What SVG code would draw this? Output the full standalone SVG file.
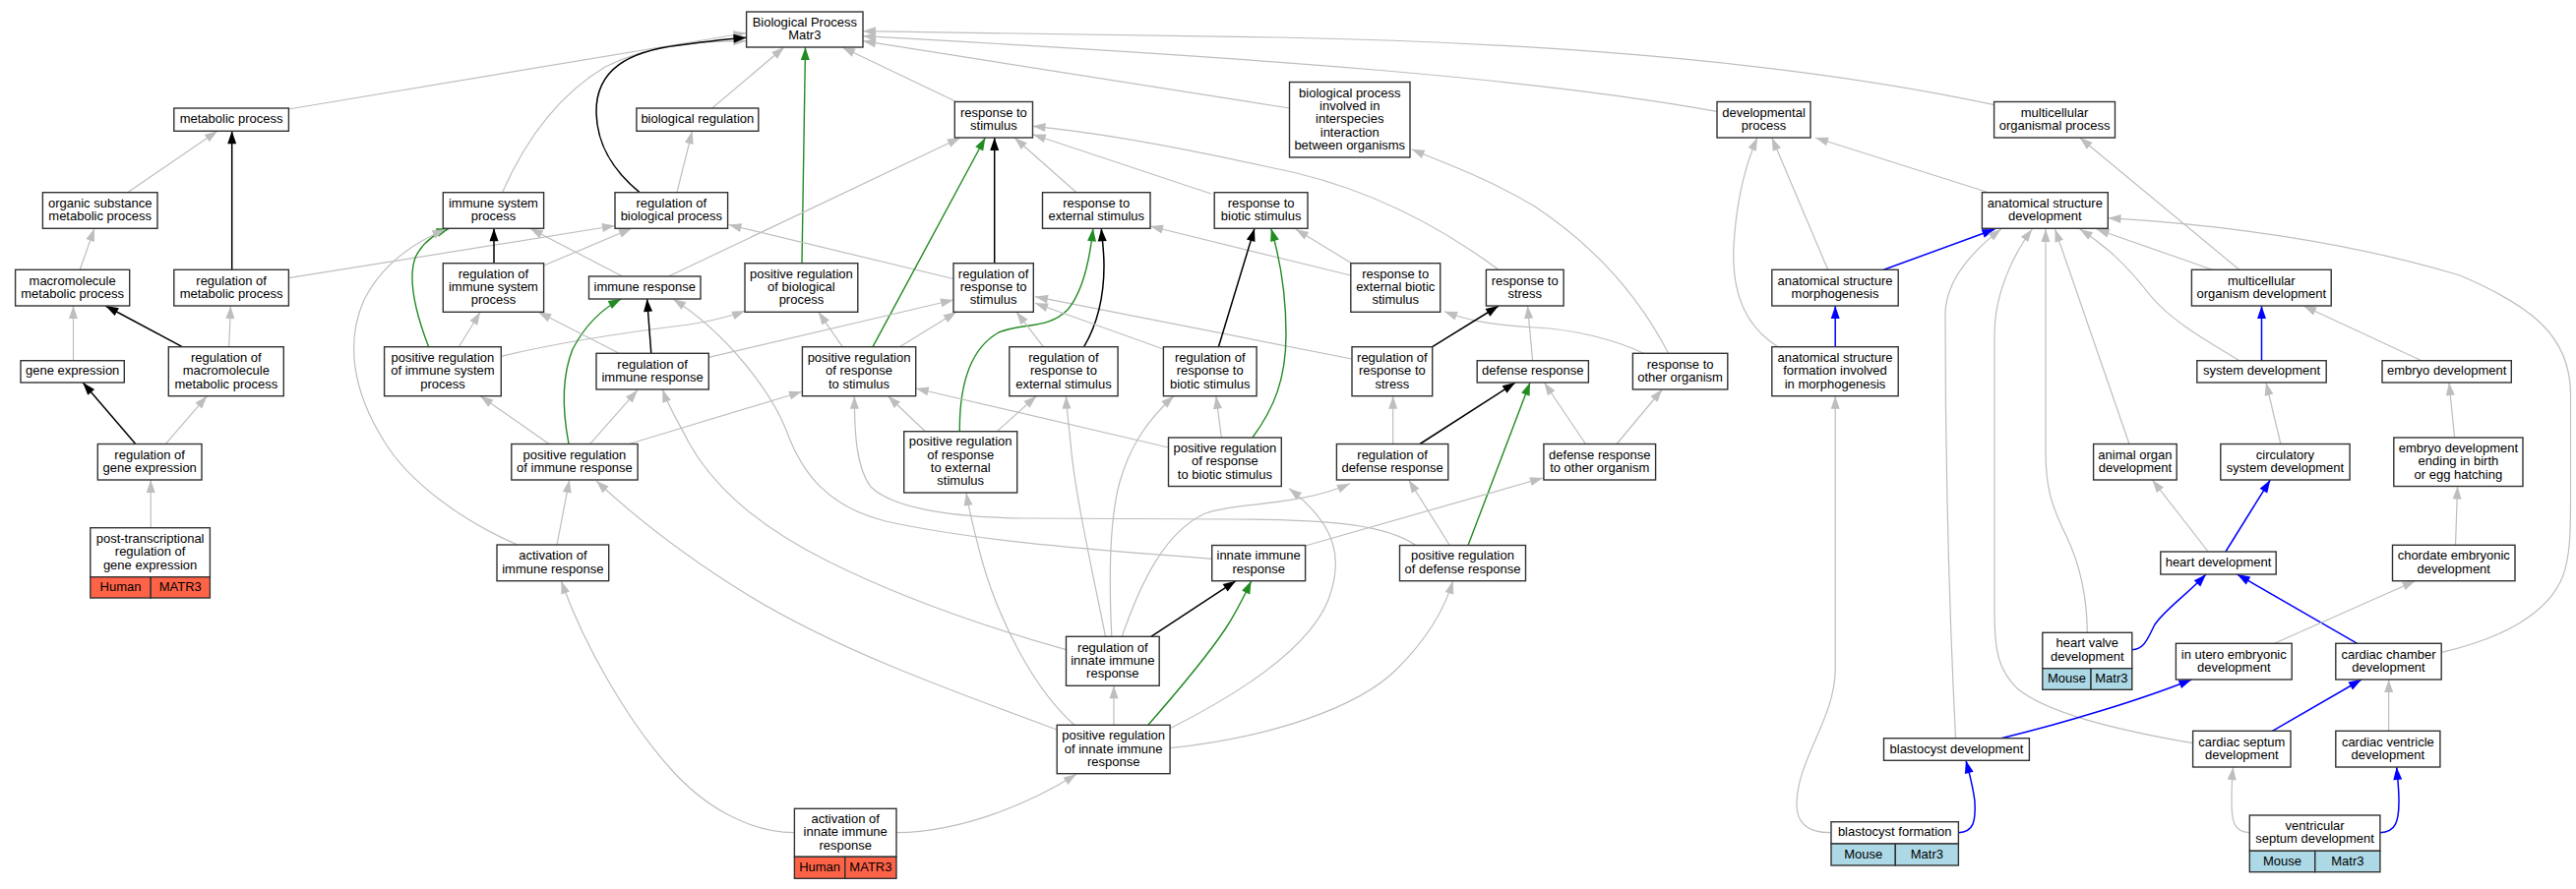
<svg xmlns="http://www.w3.org/2000/svg" width="2618" height="904" viewBox="0 0 2618 904">
<style>
text{font-family:"Liberation Sans",Arial,sans-serif;font-size:13px;text-anchor:middle;fill:#000}
.n rect{fill:#fff;stroke:#333;stroke-width:1.4}
.n rect.hu{fill:#ff6347}
.n rect.mo{fill:#add8e6}
#edges path{fill:none}
.g{stroke:#bebebe;stroke-width:1.2;marker-end:url(#ag)}
.k{stroke:#000;stroke-width:1.5;marker-end:url(#ak)}
.gr{stroke:#228b22;stroke-width:1.4;marker-end:url(#agr)}
.b{stroke:#0000ff;stroke-width:1.5;marker-end:url(#ab)}
</style>
<defs>
<marker id="ag" markerUnits="userSpaceOnUse" markerWidth="14" markerHeight="10" refX="13" refY="4.5" orient="auto" overflow="visible"><path d="M0,0 L13,4.5 L0,9 z" fill="#bebebe"/></marker>
<marker id="ak" markerUnits="userSpaceOnUse" markerWidth="14" markerHeight="10" refX="13" refY="4.5" orient="auto" overflow="visible"><path d="M0,0 L13,4.5 L0,9 z" fill="#000"/></marker>
<marker id="agr" markerUnits="userSpaceOnUse" markerWidth="14" markerHeight="10" refX="13" refY="4.5" orient="auto" overflow="visible"><path d="M0,0 L13,4.5 L0,9 z" fill="#228b22"/></marker>
<marker id="ab" markerUnits="userSpaceOnUse" markerWidth="14" markerHeight="10" refX="13" refY="4.5" orient="auto" overflow="visible"><path d="M0,0 L13,4.5 L0,9 z" fill="#0000ff"/></marker>
</defs>
<rect width="2618" height="904" fill="#fff"/>
<g id="edges">
<path class="g" d="M293,111 L758.5,33.5"/>
<path class="g" d="M510.5,195.7 C535,140 570,95 615,68 C660,45 710,42 758.5,41.7"/>
<path class="k" d="M650,195.7 C625,175 607,150 606,115 C605,70 640,52 690,46 C720,42 740,39.5 758.5,38.3"/>
<path class="g" d="M723.7,110 L797,48"/>
<path class="g" d="M688,195.7 L703.5,133.3"/>
<path class="gr" d="M815,267.7 L818.5,48"/>
<path class="g" d="M972,103.5 L856,48"/>
<path class="g" d="M1310.5,110 L877,41.7"/>
<path class="g" d="M1745,113.3 C1560,80 1300,60 877,36.7"/>
<path class="g" d="M2027,106.7 C1880,75 1650,45 1300,38 C1100,35 950,32 877,31.7"/>
<path class="g" d="M129.6,195.7 L221,133.3"/>
<path class="g" d="M81.2,274.3 L96,232.3"/>
<path class="k" d="M235.7,274.3 L235.7,133.3"/>
<path class="g" d="M293.4,282.7 L625,229.5"/>
<path class="g" d="M74.5,366.7 L74.5,311"/>
<path class="k" d="M185.2,352.7 L107.3,311"/>
<path class="g" d="M232.7,352.7 L234.4,311"/>
<path class="k" d="M137.6,451.3 L84.2,389"/>
<path class="g" d="M168.4,451.3 L210.4,402.7"/>
<path class="g" d="M153.2,536.7 L153.2,488"/>
<path class="k" d="M502,267.7 L502,232.3"/>
<path class="g" d="M552.6,270 L642,232.3"/>
<path class="g" d="M632.6,281 L538.7,232.3"/>
<path class="gr" d="M435.6,352.7 C423,320 414,285 422,262 C430,245 443,237 456.6,232.3"/>
<path class="g" d="M466.3,352.7 L488.2,317.3"/>
<path class="g" d="M509.3,362.3 C580,345 660,335 700,330 C725,326 742,322 757,316"/>
<path class="g" d="M526,554 C470,530 415,490 390,448 C360,400 350,350 370,305 C390,265 425,245 452.5,233.3"/>
<path class="g" d="M679.5,281 L976,140"/>
<path class="k" d="M1010.7,267.7 L1010.7,140"/>
<path class="g" d="M969,283.5 L740.5,228.5"/>
<path class="gr" d="M887,352.7 L1001.4,140"/>
<path class="g" d="M856.2,352.7 L831.8,317.3"/>
<path class="g" d="M914.3,352.7 L972,317.3"/>
<path class="g" d="M1094,195.7 L1031,140"/>
<path class="g" d="M1230.8,197 L1049.8,136.7"/>
<path class="k" d="M661.8,359.3 L657.6,304"/>
<path class="g" d="M720.3,363.3 L969,305"/>
<path class="gr" d="M578,451.3 C572,420 570,385 582,355 C595,330 612,314 631.3,304"/>
<path class="g" d="M557.7,451.3 L488.2,402.7"/>
<path class="g" d="M599.7,451.3 L648,396.7"/>
<path class="g" d="M640,451.3 L815,398.3"/>
<path class="g" d="M629.2,359.3 L547.1,317.3"/>
<path class="g" d="M1523,274.3 C1450,220 1370,185 1290,170 C1200,150 1120,135 1049.5,128.3"/>
<path class="g" d="M1373.7,267.7 L1316.8,233"/>
<path class="g" d="M1372.8,280 L1169,230"/>
<path class="g" d="M1695.6,359.3 C1665,300 1620,250 1560,210 C1510,180 1465,165 1434.7,151.7"/>
<path class="g" d="M1670.4,359.3 C1640,345 1600,335 1560,333 C1510,330 1490,325 1468,316.7"/>
<path class="k" d="M1455.7,352.7 L1523,311"/>
<path class="g" d="M1557.6,366.7 L1552.5,311"/>
<path class="g" d="M1415.7,451.5 L1415.7,402.7"/>
<path class="g" d="M1374,365 L1052,301.7"/>
<path class="k" d="M1443,451.5 L1540,389"/>
<path class="gr" d="M1492,554.5 L1555,389"/>
<path class="g" d="M1611.5,451.5 L1569.4,389"/>
<path class="g" d="M1643,451.5 L1689.3,396"/>
<path class="k" d="M1101.6,352.7 C1115,330 1122,300 1122,270 C1122,255 1120,242 1119.3,232.3"/>
<path class="gr" d="M975.3,438.7 C975,395 985,355 1015,338 C1040,328 1065,335 1085,315 C1102,295 1108,260 1110.9,232.3"/>
<path class="k" d="M1238.4,352.7 L1275,232.3"/>
<path class="gr" d="M1272.9,445 C1295,415 1307,385 1307,340 C1307,295 1300,260 1291.8,232.3"/>
<path class="g" d="M1060.4,352.7 L1033,317.3"/>
<path class="g" d="M1182.4,355 L1052,308.3"/>
<path class="g" d="M940.4,438.7 L902.5,402.7"/>
<path class="g" d="M1013.3,438.7 L1053.2,402.7"/>
<path class="g" d="M1187.5,455 L930.7,395"/>
<path class="g" d="M1241.3,445 L1235.9,402.7"/>
<path class="g" d="M1807,352.7 C1770,330 1760,290 1762,250 C1765,200 1775,165 1786,140"/>
<path class="g" d="M1857.7,274.3 L1800.8,140"/>
<path class="g" d="M2021,195.7 L1845,140"/>
<path class="b" d="M1914.5,274.3 L2027.4,233"/>
<path class="b" d="M1865.2,352.7 L1865.2,311"/>
<path class="g" d="M1861,846.7 C1835,847 1825,835 1826,815 C1828,770 1865.2,730 1865.2,680 L1865.2,402.7"/>
<path class="g" d="M2275.8,274.3 L2113.7,140"/>
<path class="g" d="M2248.4,274.3 L2130.6,233"/>
<path class="g" d="M2275.8,366.7 C2240,345 2205,325 2185,300 C2160,268 2140,250 2113.7,233"/>
<path class="b" d="M2298.5,366.7 L2298.5,311"/>
<path class="g" d="M2461,366.7 L2341,311"/>
<path class="g" d="M2317.9,451.5 L2303,389"/>
<path class="g" d="M2494.6,445 L2489,389"/>
<path class="g" d="M2481.2,663.3 C2540,650 2590,625 2605,585 C2612,565 2612.5,540 2612.5,510 L2612.5,400 C2612,340 2570,310 2500,280 C2400,250 2280,230 2142.5,221.7"/>
<path class="g" d="M1987.5,750.7 C1980,600 1977,450 1977,320 C1977,285 2005,255 2033.8,233"/>
<path class="g" d="M2228.6,755.7 C2150,742 2080,725 2050,700 C2030,680 2027,660 2027,620 L2027,340 C2027,300 2045,260 2065.3,233"/>
<path class="g" d="M2121.3,643.3 C2121,600 2112,570 2100,545 C2085,515 2079,495 2079,460 L2079,233"/>
<path class="g" d="M2164,451.5 L2088.5,233"/>
<path class="g" d="M2244.2,561 L2187.4,488"/>
<path class="b" d="M2261.9,561 L2307.3,488"/>
<path class="b" d="M2166.8,660.7 C2180,660 2183,648 2190,635 C2200,620 2222,605 2242,584"/>
<path class="b" d="M2395.7,654.3 L2273.7,584"/>
<path class="g" d="M2495.5,554.3 L2497.6,494.5"/>
<path class="g" d="M2311.5,654.3 L2454.6,590.7"/>
<path class="b" d="M2033.8,750.7 C2100,735 2180,710 2227.4,691"/>
<path class="b" d="M2309.4,743.3 L2400,691"/>
<path class="g" d="M2427.7,743.3 L2427.7,691"/>
<path class="g" d="M2286.3,846.7 C2270,846 2268,835 2268,815 C2268,800 2268.5,790 2269.5,780"/>
<path class="b" d="M2418.9,846.7 C2435,846 2438,835 2438,815 C2438,800 2436.5,790 2435.7,780"/>
<path class="b" d="M1990.4,846.7 C2006,846 2008,835 2007,815 C2005,798 2001,785 1998,773.3"/>
<path class="g" d="M1083.5,660.7 C1010,640 920,610 840,570 C770,535 725,495 700,450 C690,430 680,415 673.3,396"/>
<path class="g" d="M1074.2,742 C960,700 850,660 760,605 C700,568 650,530 606,489"/>
<path class="g" d="M1231.7,568.3 C1130,560 1000,552 900,530 C840,515 815,480 800,440 C785,400 740,340 684,304"/>
<path class="g" d="M1439,554.5 C1410,535 1360,528 1250,528 L1040,527 C960,526 905,515 885,495 C870,475 868.5,440 868.3,402.7"/>
<path class="g" d="M1092,737.3 C1050,700 1015,630 998,570 C990,540 985,520 982,501"/>
<path class="g" d="M1123.5,647.3 C1110,580 1092,500 1088,450 C1086,430 1084,415 1083.5,402.7"/>
<path class="g" d="M1129.8,647.3 C1127,590 1127,530 1138,490 C1148,455 1165,428 1193,402.7"/>
<path class="g" d="M1140.3,647.3 C1160,590 1185,540 1225,522 C1260,510 1320,515 1372,491.7"/>
<path class="k" d="M1169.8,647.3 L1256,590.7"/>
<path class="gr" d="M1166.8,737.3 C1195,705 1225,670 1245,640 C1255,625 1265,605 1271.7,590.7"/>
<path class="g" d="M1132,737.3 L1132,697.3"/>
<path class="g" d="M1189.1,740.7 C1260,705 1330,660 1350,610 C1365,570 1360,535 1310,496.7"/>
<path class="g" d="M1189.1,760.7 C1290,750 1380,720 1420,680 C1450,650 1468,620 1476.7,590.7"/>
<path class="g" d="M911,846.7 C980,846 1050,815 1094,787.3"/>
<path class="g" d="M807.4,846.7 C760,846 715,820 680,780 C640,735 595,660 570.3,590.7"/>
<path class="g" d="M566,554 L578.7,488"/>
<path class="g" d="M1326.7,555 L1568,486"/>
<path class="g" d="M1473.3,554.5 L1431.7,488"/>
</g>
<g id="n_bp" class="n"><rect x="758.6" y="12" width="118.4" height="36"/><text x="817.8" y="26.85">Biological Process</text><text x="817.8" y="40.15">Matr3</text></g>
<g id="n_metabolic" class="n"><rect x="176.8" y="110" width="116.6" height="23.3"/><text x="235.1" y="125.15">metabolic process</text></g>
<g id="n_bioreg" class="n"><rect x="646.9" y="110" width="123.9" height="23.3"/><text x="708.85" y="125.15">biological regulation</text></g>
<g id="n_respstim" class="n"><rect x="970.3" y="103.5" width="79.2" height="36.5"/><text x="1009.9" y="118.6">response to</text><text x="1009.9" y="131.9">stimulus</text></g>
<g id="n_interspecies" class="n"><rect x="1310.5" y="83.5" width="122.5" height="76.5"/><text x="1371.75" y="98.65">biological process</text><text x="1371.75" y="111.95">involved in</text><text x="1371.75" y="125.25">interspecies</text><text x="1371.75" y="138.55">interaction</text><text x="1371.75" y="151.85">between organisms</text></g>
<g id="n_devproc" class="n"><rect x="1745" y="103.5" width="95" height="36.5"/><text x="1792.5" y="118.6">developmental</text><text x="1792.5" y="131.9">process</text></g>
<g id="n_mcop" class="n"><rect x="2026.6" y="103.5" width="122.9" height="36.5"/><text x="2088.05" y="118.6">multicellular</text><text x="2088.05" y="131.9">organismal process</text></g>
<g id="n_orgsub" class="n"><rect x="43.4" y="195.7" width="116.6" height="36.6"/><text x="101.7" y="210.85">organic substance</text><text x="101.7" y="224.15">metabolic process</text></g>
<g id="n_isp" class="n"><rect x="450.3" y="195.7" width="102.3" height="36.6"/><text x="501.45" y="210.85">immune system</text><text x="501.45" y="224.15">process</text></g>
<g id="n_regbio" class="n"><rect x="625" y="195.7" width="114.6" height="36.6"/><text x="682.3" y="210.85">regulation of</text><text x="682.3" y="224.15">biological process</text></g>
<g id="n_respext" class="n"><rect x="1059.5" y="195.7" width="109.5" height="36.6"/><text x="1114.25" y="210.85">response to</text><text x="1114.25" y="224.15">external stimulus</text></g>
<g id="n_respbiotic" class="n"><rect x="1234.2" y="195.7" width="94.8" height="36.6"/><text x="1281.6" y="210.85">response to</text><text x="1281.6" y="224.15">biotic stimulus</text></g>
<g id="n_asd" class="n"><rect x="2014.4" y="195.7" width="127.9" height="36.6"/><text x="2078.35" y="210.85">anatomical structure</text><text x="2078.35" y="224.15">development</text></g>
<g id="n_macro" class="n"><rect x="15.6" y="274.3" width="116.1" height="36.7"/><text x="73.65" y="289.5">macromolecule</text><text x="73.65" y="302.8">metabolic process</text></g>
<g id="n_regmet" class="n"><rect x="176.8" y="274.3" width="116.6" height="36.7"/><text x="235.1" y="289.5">regulation of</text><text x="235.1" y="302.8">metabolic process</text></g>
<g id="n_regisp" class="n"><rect x="450.3" y="267.7" width="102.3" height="49.6"/><text x="501.45" y="282.7">regulation of</text><text x="501.45" y="296">immune system</text><text x="501.45" y="309.3">process</text></g>
<g id="n_ir" class="n"><rect x="598.5" y="281" width="113.5" height="23"/><text x="655.25" y="296">immune response</text></g>
<g id="n_posregbio" class="n"><rect x="757" y="267.7" width="114.8" height="49.6"/><text x="814.4" y="282.7">positive regulation</text><text x="814.4" y="296">of biological</text><text x="814.4" y="309.3">process</text></g>
<g id="n_regrs" class="n"><rect x="969" y="267.7" width="81.3" height="49.6"/><text x="1009.65" y="282.7">regulation of</text><text x="1009.65" y="296">response to</text><text x="1009.65" y="309.3">stimulus</text></g>
<g id="n_rebs" class="n"><rect x="1372.8" y="267.7" width="90.9" height="49.6"/><text x="1418.25" y="282.7">response to</text><text x="1418.25" y="296">external biotic</text><text x="1418.25" y="309.3">stimulus</text></g>
<g id="n_rstress" class="n"><rect x="1510.4" y="274.3" width="78.7" height="36.7"/><text x="1549.75" y="289.5">response to</text><text x="1549.75" y="302.8">stress</text></g>
<g id="n_asm" class="n"><rect x="1800.8" y="274.3" width="128.4" height="36.7"/><text x="1865" y="289.5">anatomical structure</text><text x="1865" y="302.8">morphogenesis</text></g>
<g id="n_mod" class="n"><rect x="2227.4" y="274.3" width="141.8" height="36.7"/><text x="2298.3" y="289.5">multicellular</text><text x="2298.3" y="302.8">organism development</text></g>
<g id="n_geneexp" class="n"><rect x="21" y="366.7" width="105.3" height="22.3"/><text x="73.65" y="381.2">gene expression</text></g>
<g id="n_defresp" class="n"><rect x="1501.2" y="366.7" width="113.2" height="22.3"/><text x="1557.8" y="381.2">defense response</text></g>
<g id="n_sysdev" class="n"><rect x="2232.8" y="366.7" width="131.4" height="22.3"/><text x="2298.5" y="381.2">system development</text></g>
<g id="n_embdev" class="n"><rect x="2421" y="366.7" width="131.3" height="22.3"/><text x="2486.65" y="381.2">embryo development</text></g>
<g id="n_regir" class="n"><rect x="606" y="359.3" width="114.3" height="36.7"/><text x="663.15" y="374.55">regulation of</text><text x="663.15" y="387.85">immune response</text></g>
<g id="n_rother" class="n"><rect x="1659.4" y="359.3" width="96.4" height="36.7"/><text x="1707.6" y="374.55">response to</text><text x="1707.6" y="387.85">other organism</text></g>
<g id="n_regmacro" class="n"><rect x="171.3" y="352.7" width="117" height="50"/><text x="229.8" y="367.9">regulation of</text><text x="229.8" y="381.2">macromolecule</text><text x="229.8" y="394.5">metabolic process</text></g>
<g id="n_posregisp" class="n"><rect x="390.6" y="352.7" width="118.7" height="50"/><text x="449.95" y="367.9">positive regulation</text><text x="449.95" y="381.2">of immune system</text><text x="449.95" y="394.5">process</text></g>
<g id="n_posregrs" class="n"><rect x="815.4" y="352.7" width="115.3" height="50"/><text x="873.05" y="367.9">positive regulation</text><text x="873.05" y="381.2">of response</text><text x="873.05" y="394.5">to stimulus</text></g>
<g id="n_regrext" class="n"><rect x="1025.8" y="352.7" width="110.3" height="50"/><text x="1080.95" y="367.9">regulation of</text><text x="1080.95" y="381.2">response to</text><text x="1080.95" y="394.5">external stimulus</text></g>
<g id="n_regrbio" class="n"><rect x="1182.4" y="352.7" width="94.7" height="50"/><text x="1229.75" y="367.9">regulation of</text><text x="1229.75" y="381.2">response to</text><text x="1229.75" y="394.5">biotic stimulus</text></g>
<g id="n_regrstress" class="n"><rect x="1374" y="352.7" width="81.7" height="50"/><text x="1414.85" y="367.9">regulation of</text><text x="1414.85" y="381.2">response to</text><text x="1414.85" y="394.5">stress</text></g>
<g id="n_asf" class="n"><rect x="1800.8" y="352.7" width="128.4" height="50"/><text x="1865" y="367.9">anatomical structure</text><text x="1865" y="381.2">formation involved</text><text x="1865" y="394.5">in morphogenesis</text></g>
<g id="n_reggene" class="n"><rect x="99.3" y="451.5" width="105.7" height="36.5"/><text x="152.15" y="466.6">regulation of</text><text x="152.15" y="479.9">gene expression</text></g>
<g id="n_posregir" class="n"><rect x="519.8" y="451.5" width="128.3" height="36.5"/><text x="583.95" y="466.6">positive regulation</text><text x="583.95" y="479.9">of immune response</text></g>
<g id="n_posregext" class="n"><rect x="918.7" y="438.7" width="115" height="62.3"/><text x="976.2" y="453.4">positive regulation</text><text x="976.2" y="466.7">of response</text><text x="976.2" y="480">to external</text><text x="976.2" y="493.3">stimulus</text></g>
<g id="n_posregbiotic" class="n"><rect x="1187.5" y="445" width="114.8" height="49.5"/><text x="1244.9" y="459.95">positive regulation</text><text x="1244.9" y="473.25">of response</text><text x="1244.9" y="486.55">to biotic stimulus</text></g>
<g id="n_regdef" class="n"><rect x="1358.4" y="451.5" width="113.4" height="36.5"/><text x="1415.1" y="466.6">regulation of</text><text x="1415.1" y="479.9">defense response</text></g>
<g id="n_defother" class="n"><rect x="1568.9" y="451.5" width="113.7" height="36.5"/><text x="1625.75" y="466.6">defense response</text><text x="1625.75" y="479.9">to other organism</text></g>
<g id="n_organ" class="n"><rect x="2127.6" y="451.5" width="84.6" height="36.5"/><text x="2169.9" y="466.6">animal organ</text><text x="2169.9" y="479.9">development</text></g>
<g id="n_circ" class="n"><rect x="2256.8" y="451.5" width="131.3" height="36.5"/><text x="2322.45" y="466.6">circulatory</text><text x="2322.45" y="479.9">system development</text></g>
<g id="n_embbirth" class="n"><rect x="2432.8" y="445" width="131.2" height="49.5"/><text x="2498.4" y="459.95">embryo development</text><text x="2498.4" y="473.25">ending in birth</text><text x="2498.4" y="486.55">or egg hatching</text></g>
<g id="n_posttrans" class="n"><rect x="91.8" y="536.7" width="121.6" height="50"/><rect class="hu" x="91.8" y="586.7" width="61.4" height="21.3"/><rect class="hu" x="153.2" y="586.7" width="60.2" height="21.3"/><text x="152.6" y="551.9">post-transcriptional</text><text x="152.6" y="565.2">regulation of</text><text x="152.6" y="578.5">gene expression</text><text x="122.5" y="600.85">Human</text><text x="183.3" y="600.85">MATR3</text></g>
<g id="n_actir" class="n"><rect x="505" y="554" width="113.7" height="36.7"/><text x="561.85" y="569.2">activation of</text><text x="561.85" y="582.5">immune response</text></g>
<g id="n_innate" class="n"><rect x="1231.7" y="554.5" width="94.9" height="36.2"/><text x="1279.15" y="569.3">innate immune</text><text x="1279.15" y="582.6">response</text></g>
<g id="n_posregdef" class="n"><rect x="1422.5" y="554.5" width="128" height="36.2"/><text x="1486.5" y="569.3">positive regulation</text><text x="1486.5" y="582.6">of defense response</text></g>
<g id="n_heart" class="n"><rect x="2195.8" y="561" width="117.4" height="23"/><text x="2254.5" y="576">heart development</text></g>
<g id="n_chordate" class="n"><rect x="2431.5" y="554.3" width="124.5" height="36.4"/><text x="2493.75" y="569.2">chordate embryonic</text><text x="2493.75" y="582.5">development</text></g>
<g id="n_reginnate" class="n"><rect x="1083.5" y="647.3" width="94.7" height="50"/><text x="1130.85" y="662.5">regulation of</text><text x="1130.85" y="675.8">innate immune</text><text x="1130.85" y="689.1">response</text></g>
<g id="n_heartvalve" class="n"><rect x="2075.8" y="643.3" width="91" height="36.4"/><rect class="mo" x="2075.8" y="679.7" width="49.2" height="21.6"/><rect class="mo" x="2125" y="679.7" width="41.8" height="21.6"/><text x="2121.3" y="658.35">heart valve</text><text x="2121.3" y="671.65">development</text><text x="2100.4" y="694">Mouse</text><text x="2145.9" y="694">Matr3</text></g>
<g id="n_inutero" class="n"><rect x="2211.4" y="654.3" width="117.8" height="36.7"/><text x="2270.3" y="669.5">in utero embryonic</text><text x="2270.3" y="682.8">development</text></g>
<g id="n_chamber" class="n"><rect x="2373.8" y="654.3" width="107.4" height="36.7"/><text x="2427.5" y="669.5">cardiac chamber</text><text x="2427.5" y="682.8">development</text></g>
<g id="n_posreginnate" class="n"><rect x="1074.2" y="737.3" width="114.9" height="49.4"/><text x="1131.65" y="752.2">positive regulation</text><text x="1131.65" y="765.5">of innate immune</text><text x="1131.65" y="778.8">response</text></g>
<g id="n_blastdev" class="n"><rect x="1914.5" y="750.7" width="147.9" height="22.6"/><text x="1988.45" y="765.5">blastocyst development</text></g>
<g id="n_septum" class="n"><rect x="2228.6" y="743.3" width="99.4" height="36.7"/><text x="2278.3" y="758.5">cardiac septum</text><text x="2278.3" y="771.8">development</text></g>
<g id="n_ventricle" class="n"><rect x="2373.8" y="743.3" width="106.1" height="36.7"/><text x="2426.85" y="758.5">cardiac ventricle</text><text x="2426.85" y="771.8">development</text></g>
<g id="n_actinnate" class="n"><rect x="807.4" y="822.3" width="103.6" height="49"/><rect class="hu" x="807.4" y="871.3" width="51.4" height="22"/><rect class="hu" x="858.8" y="871.3" width="52.2" height="22"/><text x="859.2" y="837">activation of</text><text x="859.2" y="850.3">innate immune</text><text x="859.2" y="863.6">response</text><text x="833.1" y="885.8">Human</text><text x="884.9" y="885.8">MATR3</text></g>
<g id="n_blastform" class="n"><rect x="1861" y="835.7" width="129.4" height="22.3"/><rect class="mo" x="1861" y="858" width="65.3" height="22"/><rect class="mo" x="1926.3" y="858" width="64.1" height="22"/><text x="1925.7" y="850.35">blastocyst formation</text><text x="1893.65" y="872.5">Mouse</text><text x="1958.35" y="872.5">Matr3</text></g>
<g id="n_ventsep" class="n"><rect x="2286.3" y="829" width="132.6" height="36.3"/><rect class="mo" x="2286.3" y="865.3" width="66.5" height="21.4"/><rect class="mo" x="2352.8" y="865.3" width="66.1" height="21.4"/><text x="2352.6" y="844">ventricular</text><text x="2352.6" y="857.3">septum development</text><text x="2319.55" y="879.5">Mouse</text><text x="2385.85" y="879.5">Matr3</text></g>
</svg>
